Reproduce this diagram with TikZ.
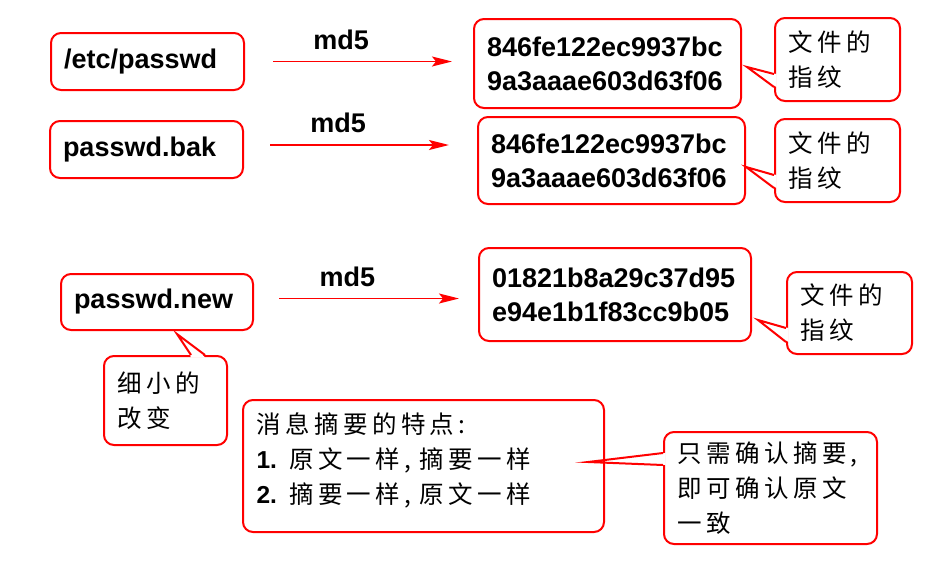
\documentclass[tikz,border=0pt]{standalone}
\usepackage{fontspec}
\setmainfont{Liberation Sans}
\newfontfamily\cjk[LetterSpace=18]{Noto Sans CJK SC}
\usetikzlibrary{arrows.meta,calc}

\tikzset{
    box/.style={draw=red, line width=2pt, rounded corners=10pt, fill=white,
                align=left, inner xsep=13pt, font=\bfseries\fontsize{27}{34}\selectfont},
    note/.style={box, inner xsep=13.5pt, font=\cjk\fontsize{24.5}{35}\selectfont},
    arr/.style={red, line width=1.9pt, -{Stealth[length=20pt,width=10pt,inset=4pt]}},
    lbl/.style={inner sep=2pt, text=black, font=\bfseries\fontsize{27}{34}\selectfont},
    ptr/.style={red, line width=2pt, miter limit=25},
}

\begin{document}
\begin{tikzpicture}[x=1pt,y=-1pt]
    \path[fill=white,use as bounding box] (0,0) rectangle (951,560);

    % files
    \node[box, text width=167pt, minimum height=57pt] (src1) at (147.5,61.5) {/etc/passwd};
    \node[box, text width=167pt, minimum height=57pt] (src2) at (146.5,149.5) {passwd.bak};
    \node[box, text width=166pt, minimum height=56pt] (src3) at (157,302) {passwd.new};

    % digests
    \node[box, text width=241pt, minimum height=89pt] (hash1) at (607.5,63.5) {846fe122ec9937bc\\9a3aaae603d63f06};
    \node[box, text width=241pt, minimum height=87pt] (hash2) at (611.5,160.5) {846fe122ec9937bc\\9a3aaae603d63f06};
    \node[box, text width=246pt, minimum height=93pt] (hash3) at (615,294.5) {01821b8a29c37d95\\e94e1b1f83cc9b05};

    \draw[arr] ($(src1.east)+(28,0)$) -- ($(src1.east -| hash1.west)+(-21,0)$)
               node[lbl, pos=0.38, above=9pt] (m1) {md5};
    \draw[arr] ($(src2.east)+(26,-4.5)$) -- ($(src2.east -| hash2.west)+(-28,-4.5)$)
               node[lbl, pos=0.38, above=9pt] (m2) {md5};
    \draw[arr] ($(src3.east)+(25,-3.5)$) -- ($(src3.east -| hash3.west)+(-19,-3.5)$)
               node[lbl, pos=0.38, above=9pt] (m3) {md5};

    % callouts
    \node[note, text width=98pt, minimum height=83pt] (fp1) at (837.5,59.5) {文件的\\指纹};
    \node[note, text width=98pt, minimum height=83pt] (fp2) at (837.5,160.5) {文件的\\指纹};
    \node[note, text width=98pt, minimum height=82pt] (fp3) at (849.5,313) {文件的\\指纹};
    \node[note, text width=96pt, minimum height=89pt] (small) at (165.5,400.5) {细小的\\改变};
    \node[note, text width=334pt, minimum height=132pt] (sum) at (423.5,466)
        {消息摘要的特点:\\{\rmfamily\bfseries 1.} 原文一样, 摘要一样\\{\rmfamily\bfseries 2.} 摘要一样, 原文一样\\[-19pt]\mbox{}};
    \node[note, text width=186pt, minimum height=112pt] (concl) at (770.5,488)
        {只需确认摘要,\\即可确认原文\\一致};

    % pointer tips and bases
    \coordinate (t1) at (747,67);
    \coordinate (t2) at (746,167);
    \coordinate (t3) at (758,320);
    \coordinate (t4) at (177,334);
    \coordinate (t5) at (588,462);
    \coordinate (p1a) at ($(fp1.west)+(0,14.5)$);
    \coordinate (p1b) at ($(fp1.west)+(0,27.5)$);
    \coordinate (p2a) at ($(fp2.west)+(0,14.5)$);
    \coordinate (p2b) at ($(fp2.west)+(0,27.5)$);
    \coordinate (p3a) at ($(fp3.west)+(0,15)$);
    \coordinate (p3b) at ($(fp3.west)+(0,29)$);
    \coordinate (p4a) at ($(small.north)+(25.5,0)$);
    \coordinate (p4b) at ($(small.north)+(39.5,0)$);
    \coordinate (p5a) at ($(concl.west)+(0,-35)$);
    \coordinate (p5b) at ($(concl.west)+(0,-23)$);

    % pointers
    \fill[white] ($(p1a)+(2.5,0)$) -- ($(p1a)!.3!(t1)$) -- ($(p1b)!.3!(t1)$) -- ($(p1b)+(2.5,0)$) -- cycle;
    \draw[ptr] (p1a) -- (t1) -- (p1b);
    \fill[white] ($(p2a)+(2.5,0)$) -- ($(p2a)!.3!(t2)$) -- ($(p2b)!.3!(t2)$) -- ($(p2b)+(2.5,0)$) -- cycle;
    \draw[ptr] (p2a) -- (t2) -- (p2b);
    \fill[white] ($(p3a)+(2.5,0)$) -- ($(p3a)!.3!(t3)$) -- ($(p3b)!.3!(t3)$) -- ($(p3b)+(2.5,0)$) -- cycle;
    \draw[ptr] (p3a) -- (t3) -- (p3b);
    \fill[white] ($(p4a)+(0,2.5)$) -- ($(p4a)!.3!(t4)$) -- ($(p4b)!.3!(t4)$) -- ($(p4b)+(0,2.5)$) -- cycle;
    \draw[ptr] (p4a) -- (t4) -- (p4b);
    \fill[white] ($(p5a)+(2.5,0)$) -- ($(p5a)!.3!(t5)$) -- ($(p5b)!.3!(t5)$) -- ($(p5b)+(2.5,0)$) -- cycle;
    \draw[ptr] (p5a) -- (t5) -- (p5b);
\end{tikzpicture}
\end{document}
